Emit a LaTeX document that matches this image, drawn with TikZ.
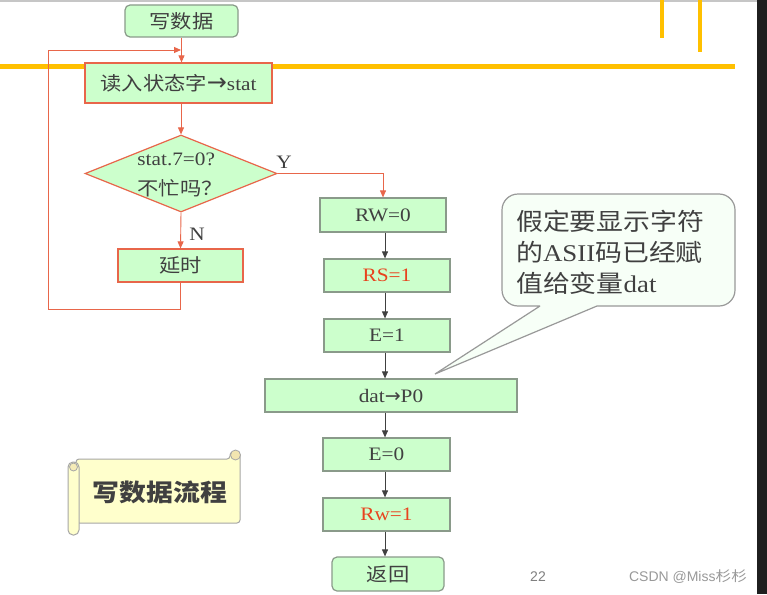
\documentclass[tikz,border=0pt]{standalone}
\usepackage{fontspec}
\setmainfont{Liberation Serif}[FakeStretch=1.12]
\newfontfamily\cjk{Noto Sans CJK SC}[FakeStretch=1.12]
\newfontfamily\wsans{Liberation Sans}
\newfontfamily\arrfont{DejaVu Sans}
\usetikzlibrary{shapes.geometric,arrows.meta}
\definecolor{boxfill}{HTML}{CCFFCC}
\definecolor{redl}{HTML}{E8664A}
\definecolor{grayb}{HTML}{8A9A8A}
\definecolor{txt}{HTML}{404040}
\definecolor{redt}{HTML}{E8431E}
\definecolor{gold}{HTML}{FFC000}
\definecolor{scrollfill}{HTML}{FFFFCC}
\newcommand{\rarr}{{\arrfont →}}
\tikzset{
  boxbase/.style={rectangle, fill=boxfill, inner sep=0pt, text=txt, font=\fontsize{19}{22}\selectfont, line width=1.2pt},
  redbox/.style={boxbase, draw=redl},
  graybox/.style={boxbase, draw=grayb},
  rbox/.style={graybox, rounded corners=5pt},
  redarr/.style={draw=redl, line width=0.9pt, -{Triangle[length=7pt,width=6pt]}},
  grayarr/.style={draw=txt, line width=0.9pt, -{Triangle[length=7pt,width=6pt]}},
  redline/.style={draw=redl, line width=0.9pt},
  lbl/.style={text=txt, font=\fontsize{19}{22}\selectfont, inner sep=0pt}
}
\begin{document}
\begin{tikzpicture}[x=1pt,y=-1pt]
\useasboundingbox (0,0) rectangle (767,594);
\fill[white] (0,0) rectangle (767,594);
% frame decorations
\fill[gray!45] (0,0) rectangle (757,2);
\fill[black!88] (757,0) rectangle (767,594);
\fill[gold] (0,63.5) rectangle (735,68.5);
\fill[gold] (660,0) rectangle (664,38);
\fill[gold] (698,0) rectangle (702,52);

% nodes
\node[rbox, minimum width=113pt, minimum height=32pt] (start) at (181.5,21) {\cjk 写数据};
\node[redbox, minimum width=187pt, minimum height=40pt] (read) at (178.5,83) {{\cjk 读入状态字}{\arrfont\fontsize{24}{24}\selectfont →}stat};
\node[diamond, draw=redl, fill=boxfill, line width=1.2pt, minimum width=192pt, minimum height=77pt, inner sep=0pt] (dia) at (181,173.5) {};
\node[lbl, align=left, font=\fontsize{19}{30}\selectfont] (diatext) at (180,175) {stat.7=0?\\{\cjk 不忙吗？}};
\node[redbox, minimum width=125pt, minimum height=33pt] (delay) at (180.5,265.5) {\cjk 延时};
\node[lbl] (ylab) at (284,162) {Y};
\node[lbl] (nlab) at (197,234) {N};

\node[graybox, minimum width=126pt, minimum height=34pt] (rw0) at (383,215) {RW=0};
\node[graybox, minimum width=126pt, minimum height=33pt, text=redt] (rs1) at (387,275.5) {RS=1};
\node[graybox, minimum width=126pt, minimum height=33pt] (e1) at (387,335.5) {E=1};
\node[graybox, minimum width=252pt, minimum height=33pt] (dat) at (391,395.5) {dat\rarr P0};
\node[graybox, minimum width=127pt, minimum height=33pt] (e0) at (386.5,454.5) {E=0};
\node[graybox, minimum width=127pt, minimum height=33pt, text=redt] (rw1) at (386.5,514.5) {Rw=1};
\node[rbox, minimum width=112pt, minimum height=34pt] (ret) at (388,574) {\cjk 返回};

% connectors
\draw[redarr] (start.south) -- (start.south |- read.north);
\draw[redarr] (dia.north |- read.south) -- (dia.north);
\draw[redarr] (dia.south) -- (delay.north);
\draw[redarr] (dia.east) -| (rw0.north);
\coordinate (lp1) at (48,309);
\coordinate (lp2) at (48,50);
\coordinate (lpend) at (181,50);
\draw[redline] (delay.south) |- (lp1) -- (lp2);
\draw[redarr] (lp2) -- (lpend);

\coordinate (cx) at (385,0);
\draw[grayarr] (cx |- rw0.south) -- (cx |- rs1.north);
\draw[grayarr] (cx |- rs1.south) -- (cx |- e1.north);
\draw[grayarr] (cx |- e1.south) -- (cx |- dat.north);
\draw[grayarr] (cx |- dat.south) -- (cx |- e0.north);
\draw[grayarr] (cx |- e0.south) -- (cx |- rw1.north);
\draw[grayarr] (cx |- rw1.south) -- (cx |- ret.north);

% callout
\draw[draw=gray!80, line width=1.2pt, fill=green!3] (540,306) -- (435,374) -- (597,306) [rounded corners=16pt] -- (735,306) -- (735,194) -- (502,194) -- (502,306) -- (540,306);
\node[anchor=west, align=left, text=txt, inner sep=0pt, font=\fontsize{24}{31}\selectfont] (note) at (516,252)
  {{\cjk 假定要显示字符}\\{\cjk 的}ASII{\cjk 码已经赋}\\{\cjk 值给变量}dat};

% scroll
\draw[draw=gray!70, line width=1pt, fill=scrollfill, rounded corners=3pt] (76,459) -- (230,459) -- (230,452) -- (240,452) -- (240,523) -- (76,523) -- cycle;
\draw[draw=gray!70, line width=0.8pt, fill=scrollfill!80!brown] (235.5,455) circle (5pt);
\draw[draw=gray!70, line width=1pt, fill=scrollfill, rounded corners=5pt] (68,462) rectangle (79,535);
\draw[draw=gray!70, line width=0.8pt, fill=scrollfill!85!brown] (73.5,467) circle (4pt);
\node[text=txt, inner sep=0pt, font=\fontsize{24}{28}\selectfont\cjk\bfseries] (title) at (160,492) {写数据流程};

% page number and watermark
\node[text=gray, inner sep=0pt, font=\fontsize{14}{16}\selectfont\wsans] (pnum) at (538,577) {22};
\node[text=gray!80, inner sep=0pt, font=\fontsize{14}{16}\selectfont\wsans] (wm) at (688,577) {CSDN @Miss{\cjk 杉杉}};
\end{tikzpicture}
\end{document}
